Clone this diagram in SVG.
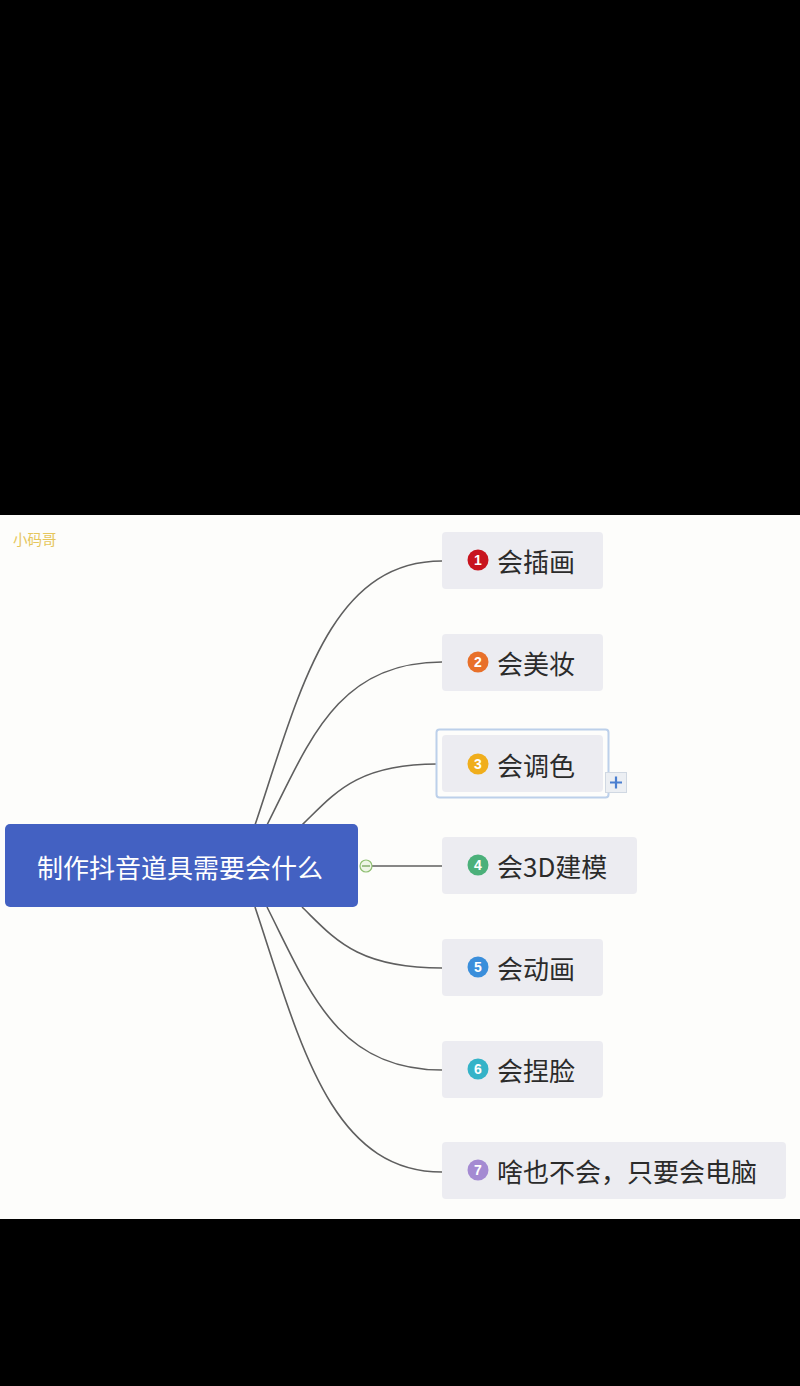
<svg xmlns="http://www.w3.org/2000/svg" width="800" height="1386" viewBox="0 0 800 1386">
<style>
.node rect.box{fill:#ececf1;}
.lbl{font-family:"Noto Sans CJK SC","Noto Sans",sans-serif;font-size:26px;fill:#2b2b2b;dominant-baseline:central;}
.num{font-family:"Liberation Sans","Noto Sans",sans-serif;font-size:14px;font-weight:bold;fill:#fff;text-anchor:middle;dominant-baseline:central;}
.conn path{fill:none;stroke:#5f5f5f;stroke-width:1.6;}
</style>
<rect x="0" y="0" width="800" height="1386" fill="#000"/>
<rect x="0" y="515" width="800" height="704" fill="#fdfdfb"/>
<text x="13" y="538" font-family="Noto Sans CJK SC, sans-serif" font-size="14.5" fill="#e6c65c" dominant-baseline="central">小码哥</text>
<g class="conn">
<path d="M255,825 C300,690 330,561 442,561"/>
<path d="M267,825 C309,742 337,662 442,662"/>
<path d="M302,825 C334,794 356,764 437,764"/>
<path d="M372,866 L442,866"/>
<path d="M302,907 C334,938 356,968 442,968"/>
<path d="M267,907 C309,990 337,1070 442,1070"/>
<path d="M255,907 C300,1042 330,1172 442,1172"/>
</g>
<g id="root">
<rect x="5" y="824" width="353" height="83" rx="5" fill="#4361c2"/>
<text x="180" y="866" font-family="Noto Sans CJK SC, sans-serif" font-size="26" fill="#fff" text-anchor="middle" dominant-baseline="central">制作抖音道具需要会什么</text>
<circle cx="366" cy="866" r="6" fill="#eef6e6" stroke="#8fbf72" stroke-width="1.2"/>
<line x1="362" y1="866" x2="370" y2="866" stroke="#6a9c50" stroke-width="1.2"/>
</g>
<g id="n1" class="node">
<rect class="box" x="442" y="532" width="161" height="57" rx="4"/>
<circle cx="478" cy="560" r="10.5" fill="#c8141e"/><text class="num" x="478" y="560">1</text>
<text class="lbl" x="497" y="560">会插画</text>
</g>
<g id="n2" class="node">
<rect class="box" x="442" y="634" width="161" height="57" rx="4"/>
<circle cx="478" cy="662" r="10.5" fill="#e8702a"/><text class="num" x="478" y="662">2</text>
<text class="lbl" x="497" y="662">会美妆</text>
</g>
<g id="n3" class="node">
<rect x="436.5" y="729.5" width="172" height="68" rx="3" fill="none" stroke="#bcd0ea" stroke-width="2"/>
<rect class="box" x="442" y="735" width="161" height="57" rx="4"/>
<circle cx="478" cy="764" r="10.5" fill="#f0ae1c"/><text class="num" x="478" y="764">3</text>
<text class="lbl" x="497" y="764">会调色</text>
<rect x="605.5" y="772.5" width="21" height="20" fill="#eceff3" stroke="#d0d8e2" stroke-width="1"/>
<path d="M610,782.5 H622 M616,776.5 V788.5" stroke="#4a7fd0" stroke-width="2.2" fill="none"/>
</g>
<g id="n4" class="node">
<rect class="box" x="442" y="837" width="195" height="57" rx="4"/>
<circle cx="478" cy="865" r="10.5" fill="#4bb07a"/><text class="num" x="478" y="865">4</text>
<text class="lbl" x="497" y="865">会3D建模</text>
</g>
<g id="n5" class="node">
<rect class="box" x="442" y="939" width="161" height="57" rx="4"/>
<circle cx="478" cy="967" r="10.5" fill="#3a8edb"/><text class="num" x="478" y="967">5</text>
<text class="lbl" x="497" y="967">会动画</text>
</g>
<g id="n6" class="node">
<rect class="box" x="442" y="1041" width="161" height="57" rx="4"/>
<circle cx="478" cy="1069" r="10.5" fill="#35b3c8"/><text class="num" x="478" y="1069">6</text>
<text class="lbl" x="497" y="1069">会捏脸</text>
</g>
<g id="n7" class="node">
<rect class="box" x="442" y="1142" width="344" height="57" rx="4"/>
<circle cx="478" cy="1170" r="10.5" fill="#a48ad2"/><text class="num" x="478" y="1170">7</text>
<text class="lbl" x="497" y="1170">啥也不会，只要会电脑</text>
</g>
</svg>
